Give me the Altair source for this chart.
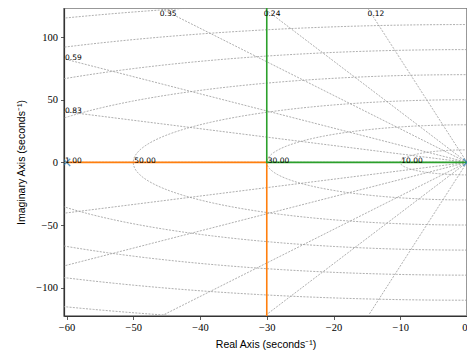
import altair as alt
import numpy as np
import pandas as pd

# ---- data ----
zeta_values = [0.00, 0.12, 0.24, 0.35, 0.59, 0.83, 1.00]   # constant damping rays
wn_values = [10, 30, 50, 70, 90, 110, 130]                   # constant natural-frequency circles
x_ticks = [-60, -50, -40, -30, -20, -10, 0]
y_ticks = [-100, -50, 0, 50, 100]
pole_re = [-60, 0]
pole_im = [0, 0]
branch_names = ["b1", "b2"]
branch1_re = [-60, -30, -30]
branch1_im = [0, 0, -400]
branch2_re = [0, -30, -30]
branch2_im = [0, 0, 400]
branch_colors = ["#ff7f0e", "#2ca02c"]

X_DOM = [-60.38, 0.0]
Y_DOM = [-122.6, 123.2]
W, H = 403, 308
R = 1000.0

# ---- grid geometry built from the lists ----
grid_rows = []
for z in zeta_values:
    th = np.arccos(z)
    for s, side in ((1, "u"), (-1, "l")):
        gid = f"z{z}{side}"
        grid_rows.append(dict(id=gid, i=0, x=0.0, y=0.0))
        grid_rows.append(dict(id=gid, i=1, x=-R * np.cos(th), y=s * R * np.sin(th)))
phi = np.radians(np.linspace(-90, 90, 241))
for wn in wn_values:
    for k, p in enumerate(phi):
        grid_rows.append(dict(id=f"w{wn}", i=k, x=-wn * np.cos(p), y=wn * np.sin(p)))
grid_df = pd.DataFrame(grid_rows)

# labels
top_rows, side_rows = [], []
for z in zeta_values:
    th = np.arccos(z)
    if z >= 1.0:
        side_rows.append(dict(x=X_DOM[0], y=0.0, text=f"{z:.2f}"))
        continue
    xt = -Y_DOM[1] * np.cos(th) / np.sin(th)
    if xt >= X_DOM[0]:
        if xt < X_DOM[1] - 1:
            top_rows.append(dict(x=xt, y=Y_DOM[1], text=f"{z:.2f}"))
    else:
        side_rows.append(dict(x=X_DOM[0], y=-X_DOM[0] * np.tan(th), text=f"{z:.2f}"))
for wn in wn_values:
    if -wn >= X_DOM[0]:
        side_rows.append(dict(x=-wn, y=0.0, text=f"{wn:.2f}"))
top_df = pd.DataFrame(top_rows)
side_df = pd.DataFrame(side_rows)

locus_df = pd.DataFrame(
    [dict(branch="b1", i=k, x=a, y=b) for k, (a, b) in enumerate(zip(branch1_re, branch1_im))]
    + [dict(branch="b2", i=k, x=a, y=b) for k, (a, b) in enumerate(zip(branch2_re, branch2_im))]
)
pole_df = pd.DataFrame(dict(x=pole_re, y=pole_im))

xs = alt.Scale(domain=X_DOM, nice=False, zero=False)
ys = alt.Scale(domain=Y_DOM, nice=False, zero=False)
x_axis = alt.Axis(values=x_ticks, labelPadding=3, titlePadding=6, format="d")
y_axis = alt.Axis(values=y_ticks, labelPadding=3, titlePadding=9, format="d")


def X():
    return alt.X("x:Q", scale=xs, axis=x_axis, title="Real Axis (seconds⁻¹)")


def Y():
    return alt.Y("y:Q", scale=ys, axis=y_axis, title="Imaginary Axis (seconds⁻¹)")


grid = alt.Chart(grid_df).mark_line(
    clip=True, color="#9a9a9a", strokeWidth=0.8, strokeDash=[2, 1.3]
).encode(x=X(), y=Y(), detail="id:N", order="i:Q")

locus = alt.Chart(locus_df).mark_line(clip=True, strokeWidth=1.6).encode(
    x=X(), y=Y(), order="i:Q",
    color=alt.Color("branch:N", scale=alt.Scale(domain=branch_names, range=branch_colors), legend=None),
)

poles = alt.Chart(pole_df).mark_point(
    shape="M-1,-1L1,1M-1,1L1,-1", size=55, filled=False, color="#1f77b4", strokeWidth=1.3, clip=True
).encode(x=X(), y=Y())

top_text = alt.Chart(top_df).mark_text(
    align="left", baseline="top", dy=2, font="DejaVu Sans", fontSize=7.5, color="black"
).encode(x=X(), y=Y(), text="text:N")

side_text = alt.Chart(side_df).mark_text(
    align="left", baseline="alphabetic", dx=1, dy=1, font="DejaVu Sans", fontSize=7.5, color="black"
).encode(x=X(), y=Y(), text="text:N")

chart = (
    alt.layer(grid, locus, poles, top_text, side_text)
    .properties(
        width=W, height=H,
        autosize=alt.AutoSizeParams(type="none"),
        padding={"left": 56, "top": 0, "right": 0, "bottom": 38},
    )
    .configure_view(stroke="#777777", strokeWidth=1.5)
    .configure_axis(
        grid=False,
        labelFont="Liberation Serif", labelFontSize=10.5, labelColor="black",
        tickColor="#333333", tickSize=3.5, tickWidth=0.8,
        domainColor="#333333", domainWidth=1.2,
        titleFont="Liberation Sans", titleFontSize=10.5, titleFontWeight="normal", titleColor="black",
    )
)

chart.save("out.html", embed_options={"renderer": "svg", "actions": False})
